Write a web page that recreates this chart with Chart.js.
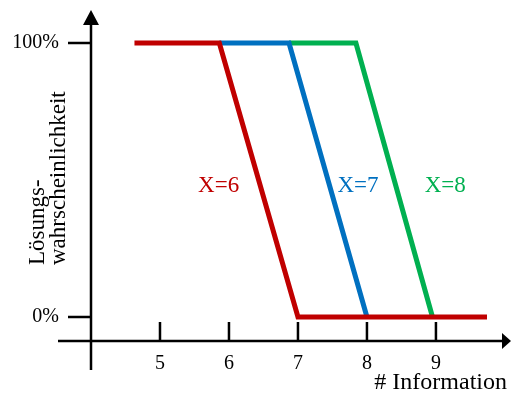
<!DOCTYPE html>
<html>
<head>
<meta charset="utf-8">
<script src="https://cdn.jsdelivr.net/npm/chart.js@4.4.1/dist/chart.umd.min.js"></script>
<style>
  body { margin: 0; background: #fff; }
  canvas { display: block; }
</style>
</head>
<body>
<canvas id="loesungChart" width="511" height="397"></canvas>
<script>
// Werte
const seriesNames = ["X=6", "X=7", "X=8"];
const redX = [4.63, 5.86, 7.0, 9.74];
const redY = [100, 100, 0, 0];
const blueX = [5.86, 6.87, 8.0];
const blueY = [100, 100, 0];
const greenX = [6.87, 7.84, 8.95];
const greenY = [100, 100, 0];
const xTicks = [5, 6, 7, 8, 9];
const yTicks = [0, 100];

const serif = "'Liberation Serif', 'Times New Roman', serif";
const colors = ["#C00000", "#0070C0", "#00B050"];

const toPoints = (xs, ys) => xs.map((x, i) => ({ x: x, y: ys[i] }));

// Achsen mit Pfeilen, Striche, Beschriftungen
const axesPlugin = {
  id: "axesPlugin",
  afterDraw(chart) {
    const ctx = chart.ctx;
    const xs = chart.scales.x;
    const ys = chart.scales.y;
    const area = chart.chartArea;
    const ax = area.left;
    const ay = area.bottom;
    const tipX = area.right + 4;
    ctx.save();
    ctx.strokeStyle = "#000";
    ctx.fillStyle = "#000";
    ctx.lineWidth = 2.5;

    // x-Achse
    ctx.beginPath();
    ctx.moveTo(ax - 33, ay);
    ctx.lineTo(tipX - 8, ay);
    ctx.stroke();
    ctx.beginPath();
    ctx.moveTo(tipX, ay);
    ctx.lineTo(tipX - 9, ay - 8);
    ctx.lineTo(tipX - 9, ay + 8);
    ctx.closePath();
    ctx.fill();

    // y-Achse
    ctx.beginPath();
    ctx.moveTo(ax, ay + 29);
    ctx.lineTo(ax, area.top + 12);
    ctx.stroke();
    ctx.beginPath();
    ctx.moveTo(ax, area.top);
    ctx.lineTo(ax - 8, area.top + 15);
    ctx.lineTo(ax + 8, area.top + 15);
    ctx.closePath();
    ctx.fill();

    // Striche
    ctx.beginPath();
    xs.ticks.forEach(t => {
      const px = xs.getPixelForValue(t.value);
      ctx.moveTo(px, ay);
      ctx.lineTo(px, ay - 19);
    });
    ys.ticks.forEach(t => {
      const py = ys.getPixelForValue(t.value);
      ctx.moveTo(ax, py);
      ctx.lineTo(ax - 23, py);
    });
    ctx.stroke();

    // Reihenbeschriftungen neben der fallenden Kante
    const offsets = [-40, 30, 51];
    ctx.font = "23px " + serif;
    ctx.textAlign = "center";
    ctx.textBaseline = "alphabetic";
    chart.data.datasets.forEach((ds, i) => {
      const d = ds.data;
      const k = d.findIndex(p => p.y === 0);
      const top = d[k - 1];
      const bottom = d[k];
      const midX = (xs.getPixelForValue(top.x) + xs.getPixelForValue(bottom.x)) / 2;
      ctx.fillStyle = colors[i];
      ctx.fillText(seriesNames[i], midX + offsets[i], ys.getPixelForValue(50) + 12);
    });

    // y-Titel
    ctx.fillStyle = "#000";
    ctx.font = "23px " + serif;
    ctx.textAlign = "left";
    const lines = ["Lösungs-", "wahrscheinlichkeit"];
    lines.forEach((line, i) => {
      ctx.save();
      ctx.translate(44 + i * 21, 265);
      ctx.rotate(-Math.PI / 2);
      ctx.fillText(line, 0, 0);
      ctx.restore();
    });
    ctx.restore();
  }
};

const data = {
  datasets: [
    { label: seriesNames[0], data: toPoints(redX, redY), borderColor: colors[0], order: 0 },
    { label: seriesNames[1], data: toPoints(blueX, blueY), borderColor: colors[1], order: 1 },
    { label: seriesNames[2], data: toPoints(greenX, greenY), borderColor: colors[2], order: 2 },
  ],
};

const config = {
  type: "scatter",
  data: data,
  options: {
    responsive: false,
    animation: false,
    layout: { padding: { top: 10, right: 4, bottom: 0, left: 0 } },
    elements: {
      point: { radius: 0, hoverRadius: 0 },
      line: { borderWidth: 5, tension: 0, borderJoinStyle: "miter", borderCapStyle: "butt" },
    },
    datasets: { scatter: { showLine: true } },
    scales: {
      x: {
        type: "linear",
        min: 4,
        max: 10.03,
        grid: { display: false },
        border: { display: false },
        afterBuildTicks: s => { s.ticks = xTicks.map(v => ({ value: v })); },
        afterFit: s => { s.height = 56; s.paddingLeft = 0; s.paddingRight = 0; },
        ticks: {
          autoSkip: false,
          maxRotation: 0,
          padding: 3,
          color: "#000",
          font: { family: serif, size: 20 },
        },
        title: {
          display: true,
          text: "# Information",
          align: "end",
          color: "#000",
          font: { family: serif, size: 24 },
          padding: 0,
        },
      },
      y: {
        type: "linear",
        min: -8.76,
        max: 112.04,
        grid: { display: false },
        border: { display: false },
        afterBuildTicks: s => { s.ticks = yTicks.map(v => ({ value: v })); },
        afterFit: s => { s.width = 91; s.paddingTop = 0; s.paddingBottom = 0; },
        ticks: {
          autoSkip: false,
          padding: 24,
          color: "#000",
          font: { family: serif, size: 20 },
          callback: v => v + "%",
        },
      },
    },
    plugins: {
      legend: { display: false },
      tooltip: { enabled: false },
    },
  },
  plugins: [axesPlugin],
};

const loesungChart = new Chart(document.getElementById("loesungChart").getContext("2d"), config);
</script>
</body>
</html>
